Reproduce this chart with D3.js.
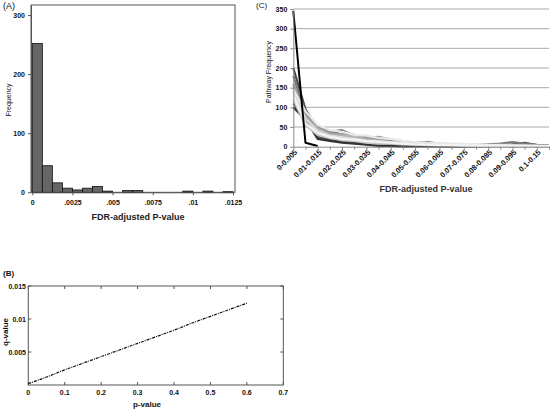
<!DOCTYPE html>
<html><head><meta charset="utf-8">
<script src="https://cdn.jsdelivr.net/npm/d3@7"></script>
<style>body{margin:0;background:#fff}svg{display:block;font-family:"Liberation Sans",Arial,sans-serif}</style>
</head><body><svg id="c" width="550" height="409"></svg>
<script>
// ---- Panel A: histogram of FDR-adjusted P-values ----
const histBinStarts = [0,0.000625,0.00125,0.001875,0.0025,0.003125,0.00375,0.004375,0.005,0.005625,0.00625,0.006875,0.0075,0.008125,0.00875,0.009375,0.01,0.010625,0.01125,0.011875];
const histBinWidth = 0.000625;
const histCounts = [252,45,16,7,4,7,10,2,0,3,3,0,0,0,0,2,0,2,0,1];
const histXTicks = [0,0.0025,0.005,0.0075,0.01,0.0125];
const histXTickLabels = ["0",".0025",".005",".0075",".01",".0125"];
const histYTicks = [0,100,200,300];

// ---- Panel B: q-value vs p-value ----
const pValues = [0,0.05,0.1,0.15,0.2,0.25,0.3,0.35,0.4,0.45,0.5,0.55,0.6];
const qValues = [0.0002,0.0012,0.0023,0.0033,0.0043,0.0053,0.0063,0.0073,0.0083,0.0094,0.0104,0.0114,0.0124];
const bXTicks = [0,0.1,0.2,0.3,0.4,0.5,0.6,0.7];
const bYTicks = [0.005,0.01,0.015];

// ---- Panel C: pathway frequency line chart ----
const cCategories = ["0-0.005","0.005-0.01","0.01-0.015","0.015-0.02","0.02-0.025","0.025-0.03","0.03-0.035","0.035-0.04","0.04-0.045","0.045-0.05","0.05-0.055","0.055-0.06","0.06-0.065","0.065-0.07","0.07-0.075","0.075-0.08","0.08-0.085","0.085-0.09","0.09-0.095","0.095-0.1","0.1-0.15","0.15-1"];
const cLabeled = ["0-0.005","0.01-0.015","0.02-0.025","0.03-0.035","0.04-0.045","0.05-0.055","0.06-0.065","0.07-0.075","0.08-0.085","0.09-0.095","0.1-0.15"];
const cYTicks = [0,50,100,150,200,250,300,350];
const seriesA = [200,95,45,40,30,20,15,10,8,5,3,2,2,1,1,1,2,5,6,10,4,2];
const seriesB = [180,85,50,38,42,28,25,20,15,12,10,12,8,6,5,4,6,8,12,8,5,3];
const seriesC = [110,65,25,18,12,10,8,6,5,4,3,2,2,1,1,1,1,2,1,1,0,0];
const seriesD = [100,70,20,15,10,8,5,2,2,0,1,1,0,0,1,2,3,5,4,2,1,0];
const seriesE = [160,80,48,35,32,30,22,25,18,14,10,9,7,6,5,5,4,6,5,4,4,2];
const seriesF = [150,75,45,30,28,25,18,15,12,10,8,7,6,5,4,4,3,3,3,2,2,1];
const seriesG = [120,55,30,22,18,15,10,8,8,6,5,4,3,3,2,2,2,1,1,1,1,1];
const seriesH = [140,70,40,28,24,20,15,14,12,10,8,6,5,4,3,3,3,2,2,2,1,1];
const seriesI = [145,90,55,42,38,30,28,22,20,15,12,10,9,8,7,6,5,4,3,3,2,2];
const seriesJ = [130,60,35,25,20,18,14,12,10,8,6,5,4,4,3,2,2,2,2,1,1,1];
const seriesBlack = [345,10,2,null,null,null,null,null,null,null,null,null,null,null,null,null,null,null,null,null,null,null];
const cSeries = [
  {v:seriesA,c:"#4a4a4a"},{v:seriesB,c:"#7a7a7a"},{v:seriesC,c:"#5a5a5a"},{v:seriesD,c:"#333"},
  {v:seriesE,c:"#9a9a9a"},{v:seriesF,c:"#b5b5b5"},{v:seriesG,c:"#c8c8c8"},{v:seriesH,c:"#dadada"},
  {v:seriesI,c:"#e8e8e8"},{v:seriesJ,c:"#f4f4f4"},{v:seriesBlack,c:"#000"}
];

const svg = d3.select("#c");
const tickFont = "bold 7px 'Liberation Sans',Arial,sans-serif";

// ===== Panel A =====
{
  const x = d3.scaleLinear().domain([0,0.0125]).range([32.3,233]);
  const y = d3.scaleLinear().domain([0,317]).range([192.3,5]);
  const g = svg.append("g");
  g.append("rect").attr("x",31).attr("y",5).attr("width",204).attr("height",187.3)
    .attr("fill","none").attr("stroke","#555").attr("stroke-width",1);
  g.selectAll("rect.bar").data(histCounts).join("rect").attr("class","bar")
    .attr("x",(d,i)=>x(histBinStarts[i]))
    .attr("width",(d,i)=>x(histBinStarts[i]+histBinWidth)-x(histBinStarts[i]))
    .attr("y",d=>y(d)).attr("height",d=>y(0)-y(d))
    .attr("fill","#666").attr("stroke","#111").attr("stroke-width",0.8)
    .attr("display",d=>d>0?null:"none");
  const xa = g.append("g").attr("transform","translate(0,192.3)")
    .call(d3.axisBottom(x).tickValues(histXTicks).tickFormat((d,i)=>histXTickLabels[i]).tickSize(3).tickSizeOuter(0));
  const ya = g.append("g").attr("transform","translate(31,0)")
    .call(d3.axisLeft(y).tickValues(histYTicks).tickSize(3).tickSizeOuter(0));
  [xa,ya].forEach(a=>{a.select(".domain").attr("stroke","#555");a.selectAll("line").attr("stroke","#555");
    a.selectAll("text").style("font",tickFont).attr("fill","#111");});
  xa.selectAll("text").attr("dy","0.9em");
  g.append("text").attr("x",3).attr("y",9).text("(A)").style("font","9px 'Liberation Sans',Arial").attr("fill","#111");
  g.append("text").attr("transform","translate(11,100) rotate(-90)").attr("text-anchor","middle")
    .text("Frequency").style("font","7px 'Liberation Sans',Arial").attr("fill","#111");
  g.append("text").attr("x",138).attr("y",219.5).attr("text-anchor","middle")
    .text("FDR-adjusted P-value").style("font","bold 9px 'Liberation Sans',Arial").attr("fill","#222");
}

// ===== Panel B =====
{
  const x = d3.scaleLinear().domain([0,0.7]).range([28.3,283.3]);
  const y = d3.scaleLinear().domain([0,0.015]).range([385,286]);
  const g = svg.append("g");
  g.append("rect").attr("x",28.3).attr("y",286).attr("width",255).attr("height",99)
    .attr("fill","none").attr("stroke","#555");
  g.selectAll("line.bx").data(bXTicks).join("line").attr("x1",d=>x(d)).attr("x2",d=>x(d))
    .attr("y1",385).attr("y2",382).attr("stroke","#555");
  g.selectAll("line.tx").data(bXTicks).join("line").attr("x1",d=>x(d)).attr("x2",d=>x(d))
    .attr("y1",286).attr("y2",289).attr("stroke","#555");
  g.selectAll("line.ly").data(bYTicks).join("line").attr("y1",d=>y(d)).attr("y2",d=>y(d))
    .attr("x1",28.3).attr("x2",31.3).attr("stroke","#555");
  g.selectAll("line.ry").data(bYTicks).join("line").attr("y1",d=>y(d)).attr("y2",d=>y(d))
    .attr("x1",283.3).attr("x2",280.3).attr("stroke","#555");
  g.selectAll("text.xl").data(bXTicks).join("text").attr("x",d=>x(d)).attr("y",394.5)
    .attr("text-anchor","middle").text(d=>d3.format("")(d)).style("font",tickFont).attr("fill","#111");
  g.selectAll("text.yl").data(bYTicks).join("text").attr("x",26).attr("y",d=>y(d)+2.5)
    .attr("text-anchor","end").text(d=>d3.format("")(d)).style("font",tickFont).attr("fill","#111");
  const line = d3.line().x((d,i)=>x(pValues[i])).y(d=>y(d));
  g.append("path").datum(qValues).attr("d",line).attr("fill","none").attr("stroke","#111")
    .attr("stroke-width",1.2).attr("stroke-dasharray","3,1,1,1");
  g.append("text").attr("x",3).attr("y",276).text("(B)").style("font","bold 8px 'Liberation Sans',Arial").attr("fill","#111");
  g.append("text").attr("transform","translate(8,332) rotate(-90)").attr("text-anchor","middle")
    .text("q-value").style("font","bold 8px 'Liberation Sans',Arial").attr("fill","#111");
  g.append("text").attr("x",147).attr("y",407).attr("text-anchor","middle")
    .text("p-value").style("font","bold 8px 'Liberation Sans',Arial").attr("fill","#111");
}

// ===== Panel C =====
{
  const x = d3.scalePoint().domain(cCategories).range([293.3,549]);
  const y = d3.scaleLinear().domain([0,350]).range([146.7,9]);
  const g = svg.append("g");
  g.selectAll("line.grid").data(cYTicks.filter(d=>d>0)).join("line")
    .attr("x1",293.3).attr("x2",549).attr("y1",d=>y(d)).attr("y2",d=>y(d))
    .attr("stroke","#aaa").attr("stroke-width",1);
  const line = d3.line().defined(d=>d!==null).x((d,i)=>x(cCategories[i])).y(d=>y(d));
  cSeries.forEach(s=>{
    g.append("path").datum(s.v).attr("d",line).attr("fill","none").attr("stroke",s.c)
      .attr("stroke-width",s.c==="#000"?2:2.2).attr("stroke-linejoin","round");
  });
  const ya = g.append("g").attr("transform","translate(293.3,0)")
    .call(d3.axisLeft(y).tickValues(cYTicks).tickSize(3).tickSizeOuter(0));
  const xa = g.append("g").attr("transform","translate(0,146.7)")
    .call(d3.axisBottom(x).tickValues(cCategories).tickFormat(d=>cLabeled.includes(d)?d:"").tickSize(3).tickSizeOuter(0));
  [xa,ya].forEach(a=>{a.select(".domain").attr("stroke","#888");a.selectAll("line").attr("stroke","#888");
    a.selectAll("text").style("font",tickFont).attr("fill","#111");});
  xa.selectAll("text").style("font","bold 7.5px 'Liberation Sans',Arial").attr("text-anchor","end").attr("dy",null).attr("y",0)
    .attr("transform","translate(4,6) rotate(-45)");
  g.append("text").attr("x",256).attr("y",8).text("(C)").style("font","8px 'Liberation Sans',Arial").attr("fill","#111");
  g.append("text").attr("transform","translate(271,72) rotate(-90)").attr("text-anchor","middle")
    .text("Pathway Frequency").style("font","7px 'Liberation Sans',Arial").attr("fill","#111");
  g.append("text").attr("x",426).attr("y",192).attr("text-anchor","middle")
    .text("FDR-adjusted P-value").style("font","bold 9px 'Liberation Sans',Arial").attr("fill","#333");
}
</script></body></html>
